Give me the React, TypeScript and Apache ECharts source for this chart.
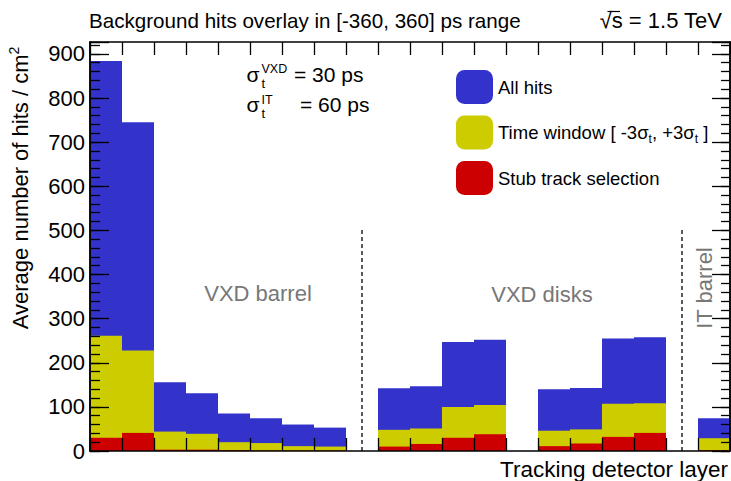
import React, { useEffect, useRef } from "react";
import * as echarts from "echarts";

const layers = ["1","2","3","4","5","6","7","8","9","10","11","12","13","14","15","16","17","18","19","20"];
const allHits = [884, 745, 156, 131, 85, 74, 60, 53, 0, 142, 147, 247, 252, 0, 140, 143, 255, 258, 0, 74];
const timeWindow = [261, 228, 44, 39, 20, 18, 11, 10, 0, 48, 51, 100, 104, 0, 46, 49, 107, 108, 0, 29];
const stubSelection = [30, 41, 3, 3, 2, 1, 1, 1, 0, 10, 16, 30, 38, 0, 11, 17, 32, 41, 0, 2];
const separatorLayers = [8, 18];
const seriesNames = ["All hits", "Time window [ -3σt, +3σt ]", "Stub track selection"];
const yMax = 927;

const FONT = "'Liberation Sans', Arial, Helvetica, sans-serif";

export default function App() {
  const ref = useRef<HTMLDivElement>(null);
  useEffect(() => {
    if (!ref.current) return;
    const chart = echarts.init(ref.current, undefined, { renderer: "svg" });
    const axisLineStyle = { color: "#000", width: 1.5 };
    const tickStyle = { color: "#000", width: 1.3 };
    const yAxisBase = (pos: string, interval: number, len: number, labels: boolean) => ({
      type: "value",
      position: pos,
      min: 0,
      max: yMax,
      interval,
      z: 10,
      splitLine: { show: false },
      axisLine: { show: true, onZero: false, lineStyle: axisLineStyle },
      axisTick: { show: true, inside: true, length: len, lineStyle: tickStyle },
      axisLabel: labels
        ? {
            show: true,
            margin: 5,
            fontSize: 22,
            fontFamily: FONT,
            color: "#000",
            formatter: (v: number) => (v % 100 === 0 ? String(v) : ""),
          }
        : { show: false },
    });
    const xAxisBase = (pos: string) => ({
      type: "category",
      position: pos,
      data: layers,
      boundaryGap: true,
      z: 10,
      axisLine: { show: true, onZero: false, lineStyle: axisLineStyle },
      axisTick: { show: true, inside: true, length: 13, interval: 0, lineStyle: tickStyle },
      axisLabel: { show: false },
      splitLine: { show: false },
    });
    const gray = "#777777";
    const barCommon = {
      type: "bar",
      xAxisIndex: 0,
      yAxisIndex: 0,
      barGap: "-100%",
      barCategoryGap: "0%",
      barWidth: "100%",
    };
    const option: any = {
      animation: false,
      grid: { left: 90, right: 1, top: 42, bottom: 30, containLabel: false },
      xAxis: [xAxisBase("bottom"), xAxisBase("top")],
      yAxis: [
        yAxisBase("left", 100, 19, true),
        yAxisBase("left", 20, 10, false),
        yAxisBase("right", 100, 18, false),
        yAxisBase("right", 20, 9, false),
      ],
      legend: {
        orient: "vertical",
        left: 456,
        top: 70,
        padding: 0,
        itemWidth: 37,
        itemHeight: 34,
        itemGap: 11.5,
        icon: "roundRect",
        selectedMode: false,
        data: seriesNames,
        formatter: (name: string) =>
          name === seriesNames[1]
            ? "Time window [ -3σ{sub|t}, +3σ{sub|t} ]"
            : name,
        textStyle: {
          fontSize: 18.5,
          fontFamily: FONT,
          color: "#000",
          rich: {
            sub: { fontSize: 12, fontFamily: FONT, color: "#000", padding: [12, 0, 0, 0] },
          },
        },
      },
      series: [
        {
          ...barCommon,
          name: seriesNames[0],
          data: allHits,
          itemStyle: { color: "#3333cc", borderWidth: 0 },
          markLine: {
            silent: true,
            symbol: ["none", "none"],
            label: { show: false },
            lineStyle: { color: "#5a5a5a", width: 2, type: [4, 3] },
            data: separatorLayers.map((i) => [
              { coord: [i, 0] },
              { coord: [i, 501] },
            ]),
          },
        },
        {
          ...barCommon,
          name: seriesNames[1],
          data: timeWindow,
          itemStyle: { color: "#cccc00", borderWidth: 0 },
        },
        {
          ...barCommon,
          name: seriesNames[2],
          data: stubSelection,
          itemStyle: { color: "#cc0000", borderWidth: 0 },
        },
      ],
      graphic: [
        {
          type: "text",
          x: 89,
          y: 20,
          style: { text: "Background hits overlay in [-360, 360] ps range", font: `20.6px ${FONT}`, fill: "#000", verticalAlign: "middle" },
        },
        {
          type: "text",
          x: 722,
          y: 20,
          style: { text: "√s = 1.5 TeV", font: `22px ${FONT}`, fill: "#000", align: "right", verticalAlign: "middle" },
        },
        {
          type: "line",
          shape: { x1: 607.5, y1: 11.5, x2: 620, y2: 11.5 },
          style: { stroke: "#000", lineWidth: 1.2 },
        },
        // sigma annotations
        { type: "text", x: 246.5, y: 74.4, style: { text: "σ", font: `21px ${FONT}`, fill: "#000", verticalAlign: "middle" } },
        { type: "text", x: 261.5, y: 83.5, style: { text: "t", font: `13px ${FONT}`, fill: "#000", verticalAlign: "middle" } },
        { type: "text", x: 261.5, y: 69, style: { text: "VXD", font: `12.5px ${FONT}`, fill: "#000", verticalAlign: "middle" } },
        { type: "text", x: 294, y: 74.4, style: { text: "= 30 ps", font: `21px ${FONT}`, fill: "#000", verticalAlign: "middle" } },
        { type: "text", x: 246.5, y: 104.4, style: { text: "σ", font: `21px ${FONT}`, fill: "#000", verticalAlign: "middle" } },
        { type: "text", x: 261.5, y: 113.5, style: { text: "t", font: `13px ${FONT}`, fill: "#000", verticalAlign: "middle" } },
        { type: "text", x: 261.5, y: 99.8, style: { text: "IT", font: `12.5px ${FONT}`, fill: "#000", verticalAlign: "middle" } },
        { type: "text", x: 300, y: 104.4, style: { text: "= 60 ps", font: `21px ${FONT}`, fill: "#000", verticalAlign: "middle" } },
        // region labels
        { type: "text", x: 258, y: 293, style: { text: "VXD barrel", font: `22px ${FONT}`, fill: gray, align: "center", verticalAlign: "middle" } },
        { type: "text", x: 542, y: 294, style: { text: "VXD disks", font: `22px ${FONT}`, fill: gray, align: "center", verticalAlign: "middle" } },
        {
          type: "text",
          x: 704,
          y: 288,
          rotation: Math.PI / 2,
          style: { text: "IT barrel", font: `22px ${FONT}`, fill: gray, align: "center", verticalAlign: "middle" },
        },
        // axis titles
        {
          type: "text",
          x: 728,
          y: 469.3,
          style: { text: "Tracking detector layer", font: `22.5px ${FONT}`, fill: "#000", align: "right", verticalAlign: "middle" },
        },
        {
          type: "text",
          x: 20,
          y: 188,
          rotation: Math.PI / 2,
          style: {
            text: "Average number of hits / cm{sup|2}",
            font: `22px ${FONT}`,
            fill: "#000",
            align: "center",
            verticalAlign: "middle",
            rich: { sup: { fontSize: 14, fontFamily: FONT, fill: "#000", padding: [0, 0, 12, 0] } },
          },
        },
      ],
    };
    chart.setOption(option);
    return () => chart.dispose();
  }, []);
  return (
    <div
      ref={ref}
      style={{ position: "absolute", left: 0, top: 0, width: 731, height: 481, background: "#fff" }}
    />
  );
}
